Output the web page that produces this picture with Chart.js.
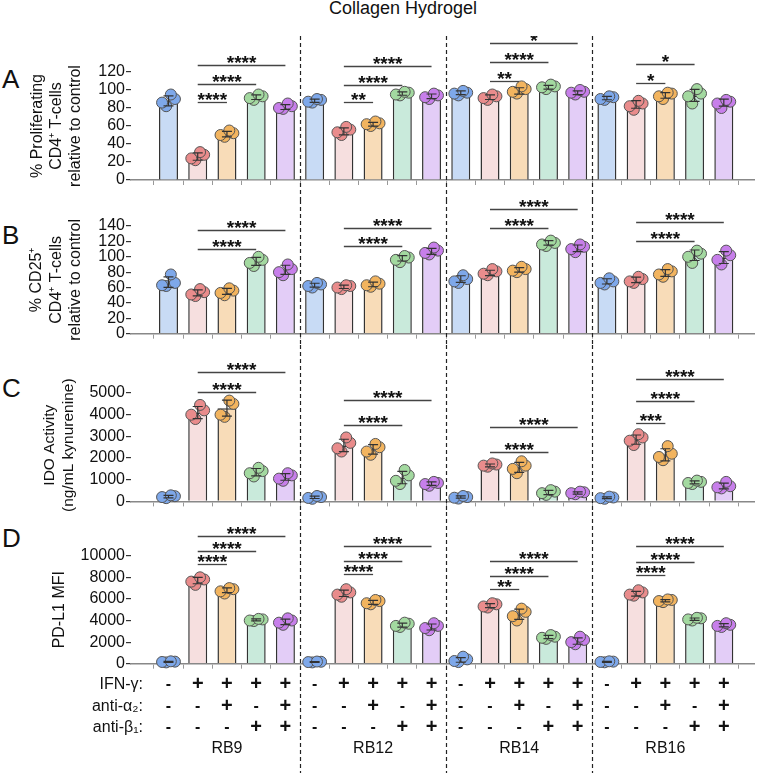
<!DOCTYPE html>
<html>
<head>
<meta charset="utf-8">
<script src="https://cdn.jsdelivr.net/npm/chart.js"></script>
<style>
  body { margin: 0; background: #fff; font-family: "Liberation Sans", Arial, sans-serif; }
  #page { position: relative; width: 762px; height: 773px; overflow: hidden; }
  .panel { position: absolute; left: 0; }
  .letter { position: absolute; left: 2px; font-size: 26px; line-height: 1; color: #111; }
  #title { position: absolute; left: 329px; top: -2px; font-size: 18px; color: #111; }
</style>
</head>
<body>
<div id="page">
  <div id="title">Collagen Hydrogel</div>
  <div class="letter" style="top:66px">A</div>
  <div class="letter" style="top:222px">B</div>
  <div class="letter" style="top:375px">C</div>
  <div class="letter" style="top:525px">D</div>
  <canvas id="chartA" class="panel" width="762" height="164" style="top:36px"></canvas>
  <canvas id="chartB" class="panel" width="762" height="145" style="top:200px"></canvas>
  <canvas id="chartC" class="panel" width="762" height="167" style="top:345px"></canvas>
  <canvas id="chartD" class="panel" width="762" height="261" style="top:512px"></canvas>
</div>
<script>
// --- data ---
const groups = ['RB9', 'RB12', 'RB14', 'RB16'];
const ifnRow = ['-', '+', '+', '+', '+'];
const a2Row  = ['-', '-', '+', '-', '+'];
const b1Row  = ['-', '-', '-', '+', '+'];

// A: % proliferating CD4+ T-cells
const prolifMeans = [88, 26, 51, 92, 81,  88, 54, 62, 96, 93,  97, 92, 99, 103, 97,  91, 84, 94, 94, 86];
const prolifDots = [
  [82, 86, 90, 95], [22, 24, 28, 31], [48, 50, 52, 55], [89, 91, 93, 95], [79, 80, 82, 85],
  [86, 87, 89, 90], [50, 53, 56, 59], [60, 62, 63, 65], [94, 95, 97, 98], [90, 92, 94, 96],
  [94, 96, 97, 99], [89, 91, 93, 95], [96, 98, 101, 104], [101, 103, 104, 106], [95, 97, 98, 100],
  [89, 90, 92, 93], [78, 82, 85, 88], [90, 93, 96, 97], [85, 93, 96, 101], [80, 85, 87, 89]
];
const prolifSig = [
  [1, 2, 87, '****'], [1, 3, 107, '****'], [1, 4, 128, '****'],
  [6, 7, 87, '**'], [6, 8, 106, '****'], [6, 9, 127, '****'],
  [11, 12, 110, '**'], [11, 13, 131, '****'], [11, 14, 152, '*'],
  [16, 17, 108, '*'], [16, 18, 129, '*']
];

// B: % CD25+ CD4+ T-cells
const cd25Means = [67, 53, 55, 94, 83,  63, 61, 64, 98, 107,  71, 79, 83, 118, 111,  68, 70, 79, 102, 99];
const cd25Dots = [
  [62, 63, 66, 77], [49, 51, 54, 58], [50, 53, 56, 59], [88, 92, 96, 100], [76, 80, 84, 90],
  [60, 62, 64, 66], [58, 60, 62, 63], [61, 63, 65, 68], [93, 96, 99, 101], [103, 105, 108, 112],
  [66, 68, 71, 76], [76, 78, 81, 84], [80, 82, 84, 87], [114, 116, 118, 121], [106, 110, 113, 116],
  [64, 66, 68, 72], [66, 68, 71, 74], [74, 77, 81, 84], [92, 100, 104, 108], [90, 96, 102, 108]
];
const cd25Sig = [
  [1, 3, 110, '****'], [1, 4, 135, '****'],
  [6, 8, 114, '****'], [6, 9, 138, '****'],
  [11, 13, 137, '****'], [11, 14, 162, '****'],
  [16, 18, 121, '****'], [16, 19, 145, '****']
];

// C: IDO activity
const idoMeans = [220, 4100, 4300, 1350, 1130,  190, 2580, 2400, 1100, 820,  200, 1660, 1570, 410, 390,  170, 2850, 2150, 880, 710];
const idoDots = [
  [150, 200, 240, 280], [3800, 4000, 4200, 4450], [3900, 4000, 4500, 4650], [1150, 1300, 1400, 1550], [950, 1050, 1200, 1300],
  [120, 160, 200, 250], [2300, 2450, 2700, 2950], [2150, 2300, 2500, 2650], [800, 950, 1200, 1450], [720, 800, 850, 900],
  [130, 170, 200, 250], [1600, 1650, 1700, 1750], [1300, 1500, 1650, 1850], [300, 380, 450, 520], [330, 380, 420, 450],
  [120, 150, 180, 220], [2600, 2800, 2950, 3100], [1900, 2050, 2200, 2550], [800, 850, 900, 960], [600, 650, 700, 900]
];
const idoSig = [
  [1, 3, 5060, '****'], [1, 4, 5980, '****'],
  [6, 8, 3530, '****'], [6, 9, 4680, '****'],
  [11, 13, 2300, '****'], [11, 14, 3440, '****'],
  [16, 17, 3630, '***'], [16, 18, 4650, '****'], [16, 19, 5640, '****']
];

// D: PD-L1 MFI
const pdl1Means = [170, 7700, 6800, 4050, 3870,  160, 6520, 5680, 3570, 3400,  350, 5380, 4580, 2480, 2100,  170, 6470, 5830, 4120, 3560];
const pdl1Dots = [
  [120, 160, 190, 220], [7300, 7600, 7800, 8000], [6500, 6700, 6900, 7000], [3950, 4000, 4100, 4150], [3600, 3800, 4000, 4200],
  [120, 150, 180, 200], [6200, 6400, 6600, 6900], [5500, 5600, 5800, 5900], [3400, 3500, 3700, 3800], [3100, 3300, 3500, 3750],
  [150, 250, 400, 650], [5200, 5300, 5500, 5600], [4000, 4400, 4800, 5100], [2300, 2400, 2500, 2650], [1800, 2000, 2200, 2500],
  [130, 160, 190, 220], [6300, 6400, 6600, 6800], [5700, 5800, 5900, 5950], [4000, 4100, 4200, 4250], [3400, 3500, 3600, 3750]
];
const pdl1Sig = [
  [1, 2, 9230, '****'], [1, 3, 10400, '****'], [1, 4, 11820, '****'],
  [6, 7, 8300, '****'], [6, 8, 9510, '****'], [6, 9, 10900, '****'],
  [11, 12, 6890, '**'], [11, 13, 8150, '****'], [11, 14, 9540, '****'],
  [16, 17, 8190, '****'], [16, 18, 9440, '****'], [16, 19, 10870, '****']
];

// --- styling ---
const barFill = ['#c8dbf5', '#f6dfdf', '#f8dcb8', '#c9eadb', '#e3cdf7'];
const dotFill = ['#7ea8ea', '#e98c8c', '#f2b45f', '#a3d9a0', '#c77fea'];
const jitter  = [-0.08, -0.22, 0.22, 0.08];
const FONT = '"Liberation Sans", Arial, sans-serif';

function sd(arr) {
  const m = arr.reduce((a, b) => a + b, 0) / arr.length;
  return Math.sqrt(arr.reduce((a, b) => a + (b - m) * (b - m), 0) / (arr.length - 1));
}

const extrasPlugin = {
  id: 'extras',
  beforeDatasetsDraw(chart) {
    const { ctx, scales: { x } } = chart;
    ctx.save();
    ctx.strokeStyle = '#222';
    ctx.lineWidth = 1.2;
    ctx.setLineDash([4, 3]);
    [4.5, 9.5, 14.5].forEach(v => {
      const px = Math.round(x.getPixelForValue(v)) + 0.5;
      ctx.beginPath();
      ctx.moveTo(px, 0);
      ctx.lineTo(px, chart.height);
      ctx.stroke();
    });
    ctx.restore();
  },
  afterDatasetsDraw(chart) {
    const { ctx, scales: { x, y } } = chart;
    const p = chart.options.plugins.extras;
    ctx.save();
    // error bars
    ctx.strokeStyle = '#333';
    ctx.lineWidth = 1.2;
    p.means.forEach((m, i) => {
      const s = sd(p.dots[i]);
      const cx = x.getPixelForValue(i);
      const y1 = y.getPixelForValue(m + s), y2 = y.getPixelForValue(Math.max(0, m - s));
      ctx.beginPath();
      ctx.moveTo(cx, y1); ctx.lineTo(cx, y2);
      ctx.moveTo(cx - 5, y1); ctx.lineTo(cx + 5, y1);
      ctx.moveTo(cx - 5, y2); ctx.lineTo(cx + 5, y2);
      ctx.stroke();
    });
    // significance brackets
    ctx.strokeStyle = '#444';
    ctx.lineWidth = 1.3;
    ctx.fillStyle = '#111';
    ctx.font = 'bold 19px ' + FONT;
    ctx.textAlign = 'center';
    ctx.textBaseline = 'alphabetic';
    p.sig.forEach(([a, b, v, label]) => {
      const xa = x.getPixelForValue(a), xb = x.getPixelForValue(b);
      const py = Math.round(y.getPixelForValue(v)) + 0.5;
      ctx.beginPath();
      ctx.moveTo(xa, py); ctx.lineTo(xb, py);
      ctx.stroke();
      ctx.fillText(label, (xa + xb) / 2, py + 3);
    });
    ctx.restore();
  },
  afterDraw(chart) {
    const p = chart.options.plugins.extras;
    const { ctx, scales: { x }, chartArea } = chart;
    const bottom = chartArea.bottom;
    ctx.save();
    ctx.fillStyle = '#111';
    // rotated y-axis title, one line per entry
    ctx.font = p.titleSize + 'px ' + FONT;
    ctx.textAlign = 'center';
    ctx.textBaseline = 'middle';
    const midY = (chartArea.top + chartArea.bottom) / 2 + p.titleShift;
    p.title.forEach((line, k) => {
      ctx.save();
      ctx.translate(p.titleX[k], midY);
      ctx.rotate(-Math.PI / 2);
      ctx.fillText(line, 0, 0);
      ctx.restore();
    });
    if (p.table) {
      const rows = [['IFN-γ:', ifnRow], ['anti-α₂:', a2Row], ['anti-β₁:', b1Row]];
      rows.forEach(([name, row], r) => {
        const py = bottom + 21 + r * 21.5;
        ctx.font = '16px ' + FONT;
        ctx.textAlign = 'right';
        ctx.fillText(name, 143, py);
        ctx.textAlign = 'center';
        for (let i = 0; i < 20; i++) {
          const s = row[i % 5];
          ctx.font = s === '+' ? 'bold 20px ' + FONT : 'bold 16px ' + FONT;
          ctx.fillText(s, x.getPixelForValue(i), py);
        }
      });
      ctx.font = '16px ' + FONT;
      ctx.textAlign = 'center';
      groups.forEach((g, k) => {
        ctx.fillText(g, x.getPixelForValue(k * 5 + 2), bottom + 85);
      });
    }
    ctx.restore();
  }
};

function makePanel(id, cfg) {
  const barData = cfg.means.map((v, i) => ({ x: i, y: v }));
  const dotData = [], dotColors = [];
  cfg.dots.forEach((arr, i) => {
    arr.forEach((v, k) => {
      dotData.push({ x: i + jitter[k], y: v });
      dotColors.push(dotFill[i % 5]);
    });
  });
  return new Chart(document.getElementById(id), {
    type: 'bar',
    data: {
      datasets: [
        {
          type: 'bar',
          data: barData,
          backgroundColor: cfg.means.map((_, i) => barFill[i % 5]),
          borderColor: '#333',
          borderWidth: 1.5,
          barPercentage: 0.65,
          categoryPercentage: 1,
          order: 2
        },
        {
          type: 'scatter',
          data: dotData,
          backgroundColor: dotColors,
          borderColor: '#555',
          borderWidth: 1,
          pointRadius: 5.5,
          clip: false,
          order: 1
        }
      ]
    },
    options: {
      responsive: false,
      animation: false,
      layout: { padding: { top: cfg.padTop, bottom: cfg.padBottom, left: 0, right: 8 } },
      plugins: {
        legend: { display: false },
        tooltip: { enabled: false },
        extras: {
          means: cfg.means, dots: cfg.dots, sig: cfg.sig, table: !!cfg.table,
          title: cfg.title, titleX: cfg.titleX,
          titleSize: cfg.titleSize || 16, titleShift: cfg.titleShift || 0
        }
      },
      scales: {
        x: {
          type: 'linear',
          min: -0.75,
          max: 19.5,
          afterBuildTicks: s => { s.ticks = cfg.means.map((_, i) => ({ value: i })); },
          afterFit: s => { s.height = 8; },
          ticks: { display: false },
          grid: { drawOnChartArea: false, drawTicks: true, tickLength: 5, color: '#999', lineWidth: 1 },
          border: { display: true, color: '#888', width: 1.6 }
        },
        y: {
          min: 0,
          max: cfg.max,
          afterFit: s => { s.width = 131; },
          ticks: {
            stepSize: cfg.step, autoSkip: false, padding: 1, color: '#111',
            font: { family: FONT, size: 16 },
            callback: v => String(v)
          },
          grid: { drawOnChartArea: false, drawTicks: true, tickLength: 5, color: '#333', lineWidth: 1.2 },
          border: { display: false }
        }
      }
    },
    plugins: [extrasPlugin]
  });
}

makePanel('chartA', {
  means: prolifMeans, dots: prolifDots, sig: prolifSig, max: 120, step: 20,
  title: ['% Proliferating', 'CD4⁺ T-cells', 'relative to control'], titleX: [38, 57, 76],
  padTop: 36, padBottom: 12
});
makePanel('chartB', {
  means: cd25Means, dots: cd25Dots, sig: cd25Sig, max: 140, step: 20,
  title: ['% CD25⁺', 'CD4⁺ T-cells', 'relative to control'], titleX: [37, 57, 76],
  padTop: 26, padBottom: 3.3
});
makePanel('chartC', {
  means: idoMeans, dots: idoDots, sig: idoSig, max: 5000, step: 1000,
  title: ['IDO Activity', '(ng/mL kynurenine)'], titleX: [50, 69],
  titleSize: 15.5, titleShift: -2,
  padTop: 48, padBottom: 2.3
});
makePanel('chartD', {
  means: pdl1Means, dots: pdl1Dots, sig: pdl1Sig, max: 10000, step: 2000,
  title: ['PD-L1 MFI'], titleX: [60],
  padTop: 43.7, padBottom: 101.3, table: true
});
</script>
</body>
</html>
